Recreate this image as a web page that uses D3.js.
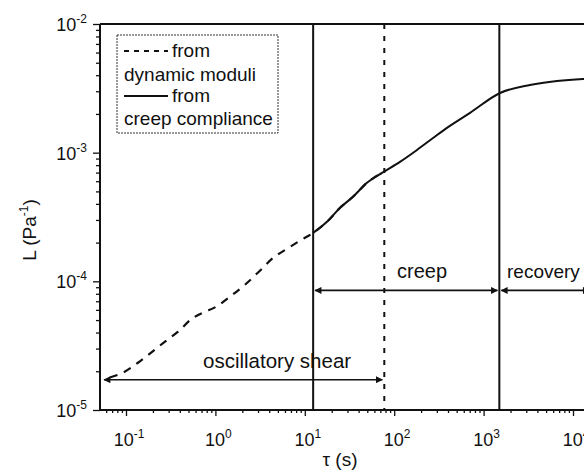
<!DOCTYPE html>
<html>
<head>
<meta charset="utf-8">
<script src="https://cdn.jsdelivr.net/npm/d3@7/dist/d3.min.js"></script>
<style>
  html, body { margin: 0; padding: 0; background: #fff; }
  svg { display: block; font-family: "Liberation Sans", Arial, Helvetica, sans-serif; }
</style>
</head>
<body>
<svg id="chart" width="584" height="475"></svg>
<script>
// Retardation spectrum L(τ) from two routes
const dynTau = [0.066, 0.0925, 0.136, 0.185, 0.273, 0.382, 0.547, 0.726, 1.0, 1.455, 2.14, 3.15, 4.41, 6.32, 8.84, 12.4, 17.7, 24.8, 34.6, 49.6, 77];
const dynL   = [1.79e-5, 1.95e-5, 2.33e-5, 2.74e-5, 3.40e-5, 4.06e-5, 5.13e-5, 5.71e-5, 6.3e-5, 7.59e-5, 9.41e-5, 1.21e-4, 1.52e-4, 1.79e-4, 2.07e-4, 2.38e-4, 2.90e-4, 3.73e-4, 4.54e-4, 5.83e-4, 7.1e-4];

const creepTau = [12.4, 17.7, 24.8, 34.6, 49.6, 73.1, 116, 180, 272, 400, 705, 1525, 3300, 6620, 12900, 20000];
const creepL   = [2.38e-4, 2.90e-4, 3.73e-4, 4.54e-4, 5.83e-4, 6.97e-4, 8.49e-4, 1.05e-3, 1.30e-3, 1.58e-3, 2.04e-3, 2.91e-3, 3.36e-3, 3.61e-3, 3.74e-3, 3.78e-3];

// Boundaries between the measuring windows (s)
const creepStart = 12.4;
const oscEnd = 77.5;
const recoveryStart = 1500;

// Range arrows: from τ, to τ, at L, label
const rangeNames = ["oscillatory shear", "creep", "recovery"];
const rangeFrom  = [0.054, 12.4, 1500];
const rangeTo    = [77.5, 1500, 16000];
const rangeAtL   = [1.72e-5, 8.5e-5, 8.5e-5];

const xTickExp = [-1, 0, 1, 2, 3, 4];
const yTickExp = [-5, -4, -3, -2];

const svg = d3.select("#chart");

const plotLeft = 100, plotTop = 24, plotBottom = 410, plotRight = 660;
const x = d3.scaleLog().domain([0.1, 1e4]).range([126, 573]);
const y = d3.scaleLog().domain([1e-5, 1e-2]).range([plotBottom, plotTop]);
const xMin = x.invert(plotLeft), xMax = x.invert(plotRight);

// frame: top line
svg.append("line")
  .attr("x1", plotLeft).attr("x2", plotRight).attr("y1", plotTop).attr("y2", plotTop)
  .attr("stroke", "#111").attr("stroke-width", 2);

// minor tick values
function minorTicks(lo, hi) {
  const out = [];
  for (let e = Math.floor(Math.log10(lo)); e <= Math.ceil(Math.log10(hi)); e++) {
    for (let m = 1; m < 10; m++) {
      const v = m * Math.pow(10, e);
      if (v >= lo * 0.999 && v <= hi * 1.001) out.push(v);
    }
  }
  return out;
}

function isMajor(v) { return Math.abs(Math.log10(v) - Math.round(Math.log10(v))) < 1e-9; }

// x axis
const xAxisG = svg.append("g").attr("transform", `translate(0,${plotBottom})`);
xAxisG.call(d3.axisBottom(x).tickValues(minorTicks(xMin, xMax)).tickFormat("").tickSizeOuter(0).tickSizeInner(3));
xAxisG.select(".domain").remove();
xAxisG.selectAll(".tick line").attr("y2", d => isMajor(d) ? 6 : 3).attr("stroke", "#111").attr("stroke-width", 1.3);
xAxisG.append("line").attr("x1", plotLeft).attr("x2", plotRight).attr("y1", 0).attr("y2", 0)
  .attr("stroke", "#111").attr("stroke-width", 2);

// y axis
const yAxisG = svg.append("g").attr("transform", `translate(${plotLeft},0)`);
yAxisG.call(d3.axisLeft(y).tickValues(minorTicks(1e-5, 1e-2)).tickFormat("").tickSizeOuter(0).tickSizeInner(4));
yAxisG.select(".domain").remove();
yAxisG.selectAll(".tick line").attr("x2", d => isMajor(d) ? -7 : -4).attr("stroke", "#111").attr("stroke-width", 1.3);
yAxisG.append("line").attr("x1", 0).attr("x2", 0).attr("y1", plotTop).attr("y2", plotBottom)
  .attr("stroke", "#111").attr("stroke-width", 2);

// power-of-ten labels
function powLabel(g, exp, xPos, yPos, anchor) {
  const t = g.append("text").attr("x", xPos).attr("y", yPos).attr("text-anchor", anchor)
    .attr("font-size", 18).attr("fill", "#111");
  t.append("tspan").text("10");
  t.append("tspan").attr("dy", -8).attr("font-size", 12).text(String(exp));
  return t;
}
xTickExp.forEach(e => powLabel(svg, e, x(Math.pow(10, e)) + 3, 446, "middle"));
yTickExp.forEach(e => powLabel(svg, e, 87, y(Math.pow(10, e)) + 7, "end"));

// axis titles
const yl = svg.append("text").attr("transform", `translate(36,230) rotate(-90)`)
  .attr("text-anchor", "middle").attr("font-size", 19).attr("fill", "#111");
yl.append("tspan").text("L (Pa");
yl.append("tspan").attr("dy", -8).attr("font-size", 12).text("-1");
yl.append("tspan").attr("dy", 8).text(")");

svg.append("text").attr("x", 340).attr("y", 466).attr("text-anchor", "middle")
  .attr("font-size", 19).attr("fill", "#111").text("τ (s)");

// vertical window boundaries
[creepStart, recoveryStart].forEach(v => {
  svg.append("line").attr("x1", x(v)).attr("x2", x(v)).attr("y1", plotTop).attr("y2", plotBottom)
    .attr("stroke", "#111").attr("stroke-width", 2);
});
svg.append("line").attr("x1", x(oscEnd)).attr("x2", x(oscEnd)).attr("y1", plotTop).attr("y2", plotBottom)
  .attr("stroke", "#111").attr("stroke-width", 2).attr("stroke-dasharray", "5,7");

// curves
const line = d3.line().x(d => x(d[0])).y(d => y(d[1])).curve(d3.curveMonotoneX);
svg.append("path").datum(dynTau.map((t, i) => [t, dynL[i]]))
  .attr("d", line).attr("fill", "none").attr("stroke", "#111").attr("stroke-width", 2.2)
  .attr("stroke-dasharray", "8,7");
svg.append("path").datum(creepTau.map((t, i) => [t, creepL[i]]))
  .attr("d", line).attr("fill", "none").attr("stroke", "#111").attr("stroke-width", 2);

// double-headed range arrows
svg.append("defs").append("marker")
  .attr("id", "head").attr("viewBox", "0 0 10 10").attr("refX", 9).attr("refY", 5)
  .attr("markerWidth", 9).attr("markerHeight", 7).attr("markerUnits", "userSpaceOnUse")
  .attr("orient", "auto-start-reverse")
  .append("path").attr("d", "M0,0 L10,5 L0,10 Z").attr("fill", "#111");

rangeNames.forEach((name, i) => {
  svg.append("line")
    .attr("x1", x(rangeFrom[i]) + 2).attr("x2", x(rangeTo[i]) - 2)
    .attr("y1", y(rangeAtL[i])).attr("y2", y(rangeAtL[i]))
    .attr("stroke", "#111").attr("stroke-width", 1.6)
    .attr("marker-start", "url(#head)").attr("marker-end", "url(#head)");
});

// range labels
svg.append("text").attr("x", 203).attr("y", 368).attr("font-size", 20.5).attr("fill", "#111").text(rangeNames[0]);
svg.append("text").attr("x", 397).attr("y", 278).attr("font-size", 20).attr("fill", "#111").text(rangeNames[1]);
svg.append("text").attr("x", 507).attr("y", 278).attr("font-size", 19).attr("fill", "#111").text(rangeNames[2]);

// legend
const lg = svg.append("g");
lg.append("rect").attr("x", 117).attr("y", 35).attr("width", 161).attr("height", 98)
  .attr("fill", "#fff").attr("stroke", "#333").attr("stroke-width", 1).attr("stroke-dasharray", "2,1");
lg.append("line").attr("x1", 124).attr("x2", 168).attr("y1", 51).attr("y2", 51)
  .attr("stroke", "#111").attr("stroke-width", 1.8).attr("stroke-dasharray", "5,5");
lg.append("text").attr("x", 172).attr("y", 57).attr("font-size", 19).attr("fill", "#111").text("from");
lg.append("text").attr("x", 124).attr("y", 81).attr("font-size", 19).attr("fill", "#111").text("dynamic moduli");
lg.append("line").attr("x1", 124).attr("x2", 168).attr("y1", 96).attr("y2", 96)
  .attr("stroke", "#111").attr("stroke-width", 1.8);
lg.append("text").attr("x", 172).attr("y", 102).attr("font-size", 19).attr("fill", "#111").text("from");
lg.append("text").attr("x", 124).attr("y", 125).attr("font-size", 19).attr("fill", "#111").text("creep compliance");
</script>
</body>
</html>
